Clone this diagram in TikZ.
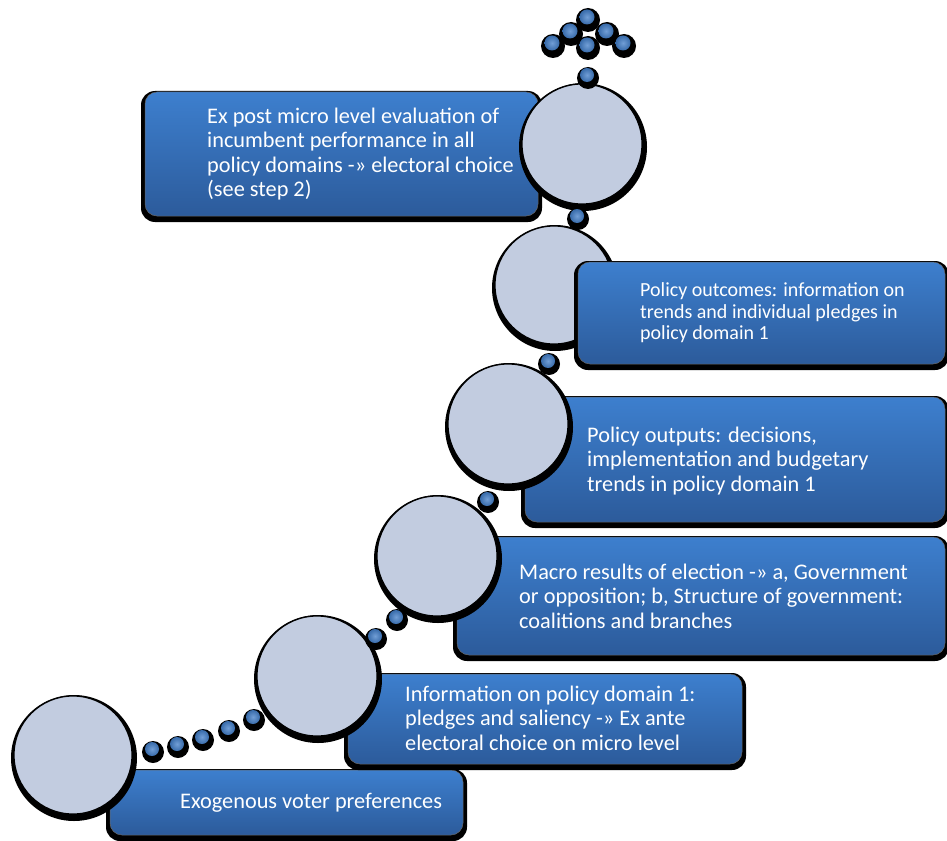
\documentclass[tikz,border=0pt]{standalone}
\usepackage{fontspec}
\setmainfont{Carlito}
\definecolor{boxtop}{RGB}{61,127,206}
\definecolor{boxbot}{RGB}{44,91,155}
\definecolor{circfill}{RGB}{194,204,224}
\definecolor{dotblue}{RGB}{66,126,200}
\tikzset{
  boxshape/.style={rounded corners=12pt, top color=boxtop, bottom color=boxbot, draw=black!60, line width=0.5pt},
  boxshadow/.style={rounded corners=14pt, fill=black},
  circshape/.style={fill=circfill, draw=black, line width=1.2pt},
  circshadow/.style={fill=black},
  dotshadow/.style={fill=black},
  dotface/.style={inner color=dotblue!75!white, outer color=dotblue!85!black},
  lbl/.style={text=white, anchor=west, align=left, inner sep=0pt, font=\fontsize{22.3}{24.5}\selectfont},
  lblsmall/.style={lbl, font=\fontsize{20}{21.5}\selectfont},
}
\newcommand\mybox[4]{%
  \fill[boxshadow] ({#1-4},{#2-1}) rectangle ({#3+4},{#4+6});
  \path[boxshape] (#1,#2) rectangle (#3,#4);}
\newcommand\mycirc[3]{%
  \fill[circshadow] ({#1+1},{#2+3}) circle[radius={#3+4}];
  \path[circshape] (#1,#2) circle[radius=#3];}
\newcommand\mydot[2]{%
  \fill[dotshadow] ({#1+1},{#2+3}) circle[radius=11];
  \shade[dotface] (#1,#2) circle[radius=7];}
\begin{document}
\begin{tikzpicture}[x=1pt,y=-1pt]
\useasboundingbox (0,0) rectangle (947,840);
\fill[white] (0,0) rectangle (947,840);
% step 1
\mybox{110}{770}{463}{835}
\mycirc{73}{755}{59}
% step 2
\mybox{348}{674}{742}{764}
\mycirc{317}{676}{60}
% step 3
\mybox{457}{537}{945}{655}
\mycirc{437}{556}{60}
% step 4
\mybox{525}{397}{945}{522}
\mycirc{508}{424}{60}
% step 5
\mycirc{554}{285}{59}
\mybox{578}{262}{945}{364}
% step 6
\mybox{145}{92}{538}{216}
\mycirc{582}{144}{60}
% connecting dots
\mydot{152}{749}
\mydot{177}{744}
\mydot{202}{737}
\mydot{228}{728}
\mydot{253}{717}
\mydot{375}{636}
\mydot{396}{617}
\mydot{487}{499}
\mydot{548}{361}
\mydot{577}{216}
\mydot{587}{75}
% arrow of dots
\foreach \px/\py in {587/17,570/31,606/31,552/43,587/45,623/43}
  \fill[dotshadow] ({\px+1},{\py+3}) circle[radius=12];
\foreach \px/\py in {587/17,570/31,606/31,552/43,587/45,623/43}
  \shade[dotface] (\px,\py) circle[radius=7.5];
% labels
\node[lbl] (t1) at (180,803) {Exogenous voter preferences};
\node[lbl] (t2) at (405,718) {Information on policy domain 1:\\pledges and saliency -» Ex ante\\electoral choice on micro level};
\node[lbl] (t3) at (519,596) {Macro results of election -» a, Government\\or opposition; b, Structure of government:\\coalitions and branches};
\node[lbl] (t4) at (587,461) {Policy outputs: decisions,\\implementation and budgetary\\trends in policy domain 1};
\node[lblsmall] (t5) at (640,313) {Policy outcomes: information on\\trends and individual pledges in\\policy domain 1};
\node[lbl] (t6) at (207,154) {Ex post micro level evaluation of\\incumbent performance in all\\policy domains -» electoral choice\\(see step 2)};
\end{tikzpicture}
\end{document}
